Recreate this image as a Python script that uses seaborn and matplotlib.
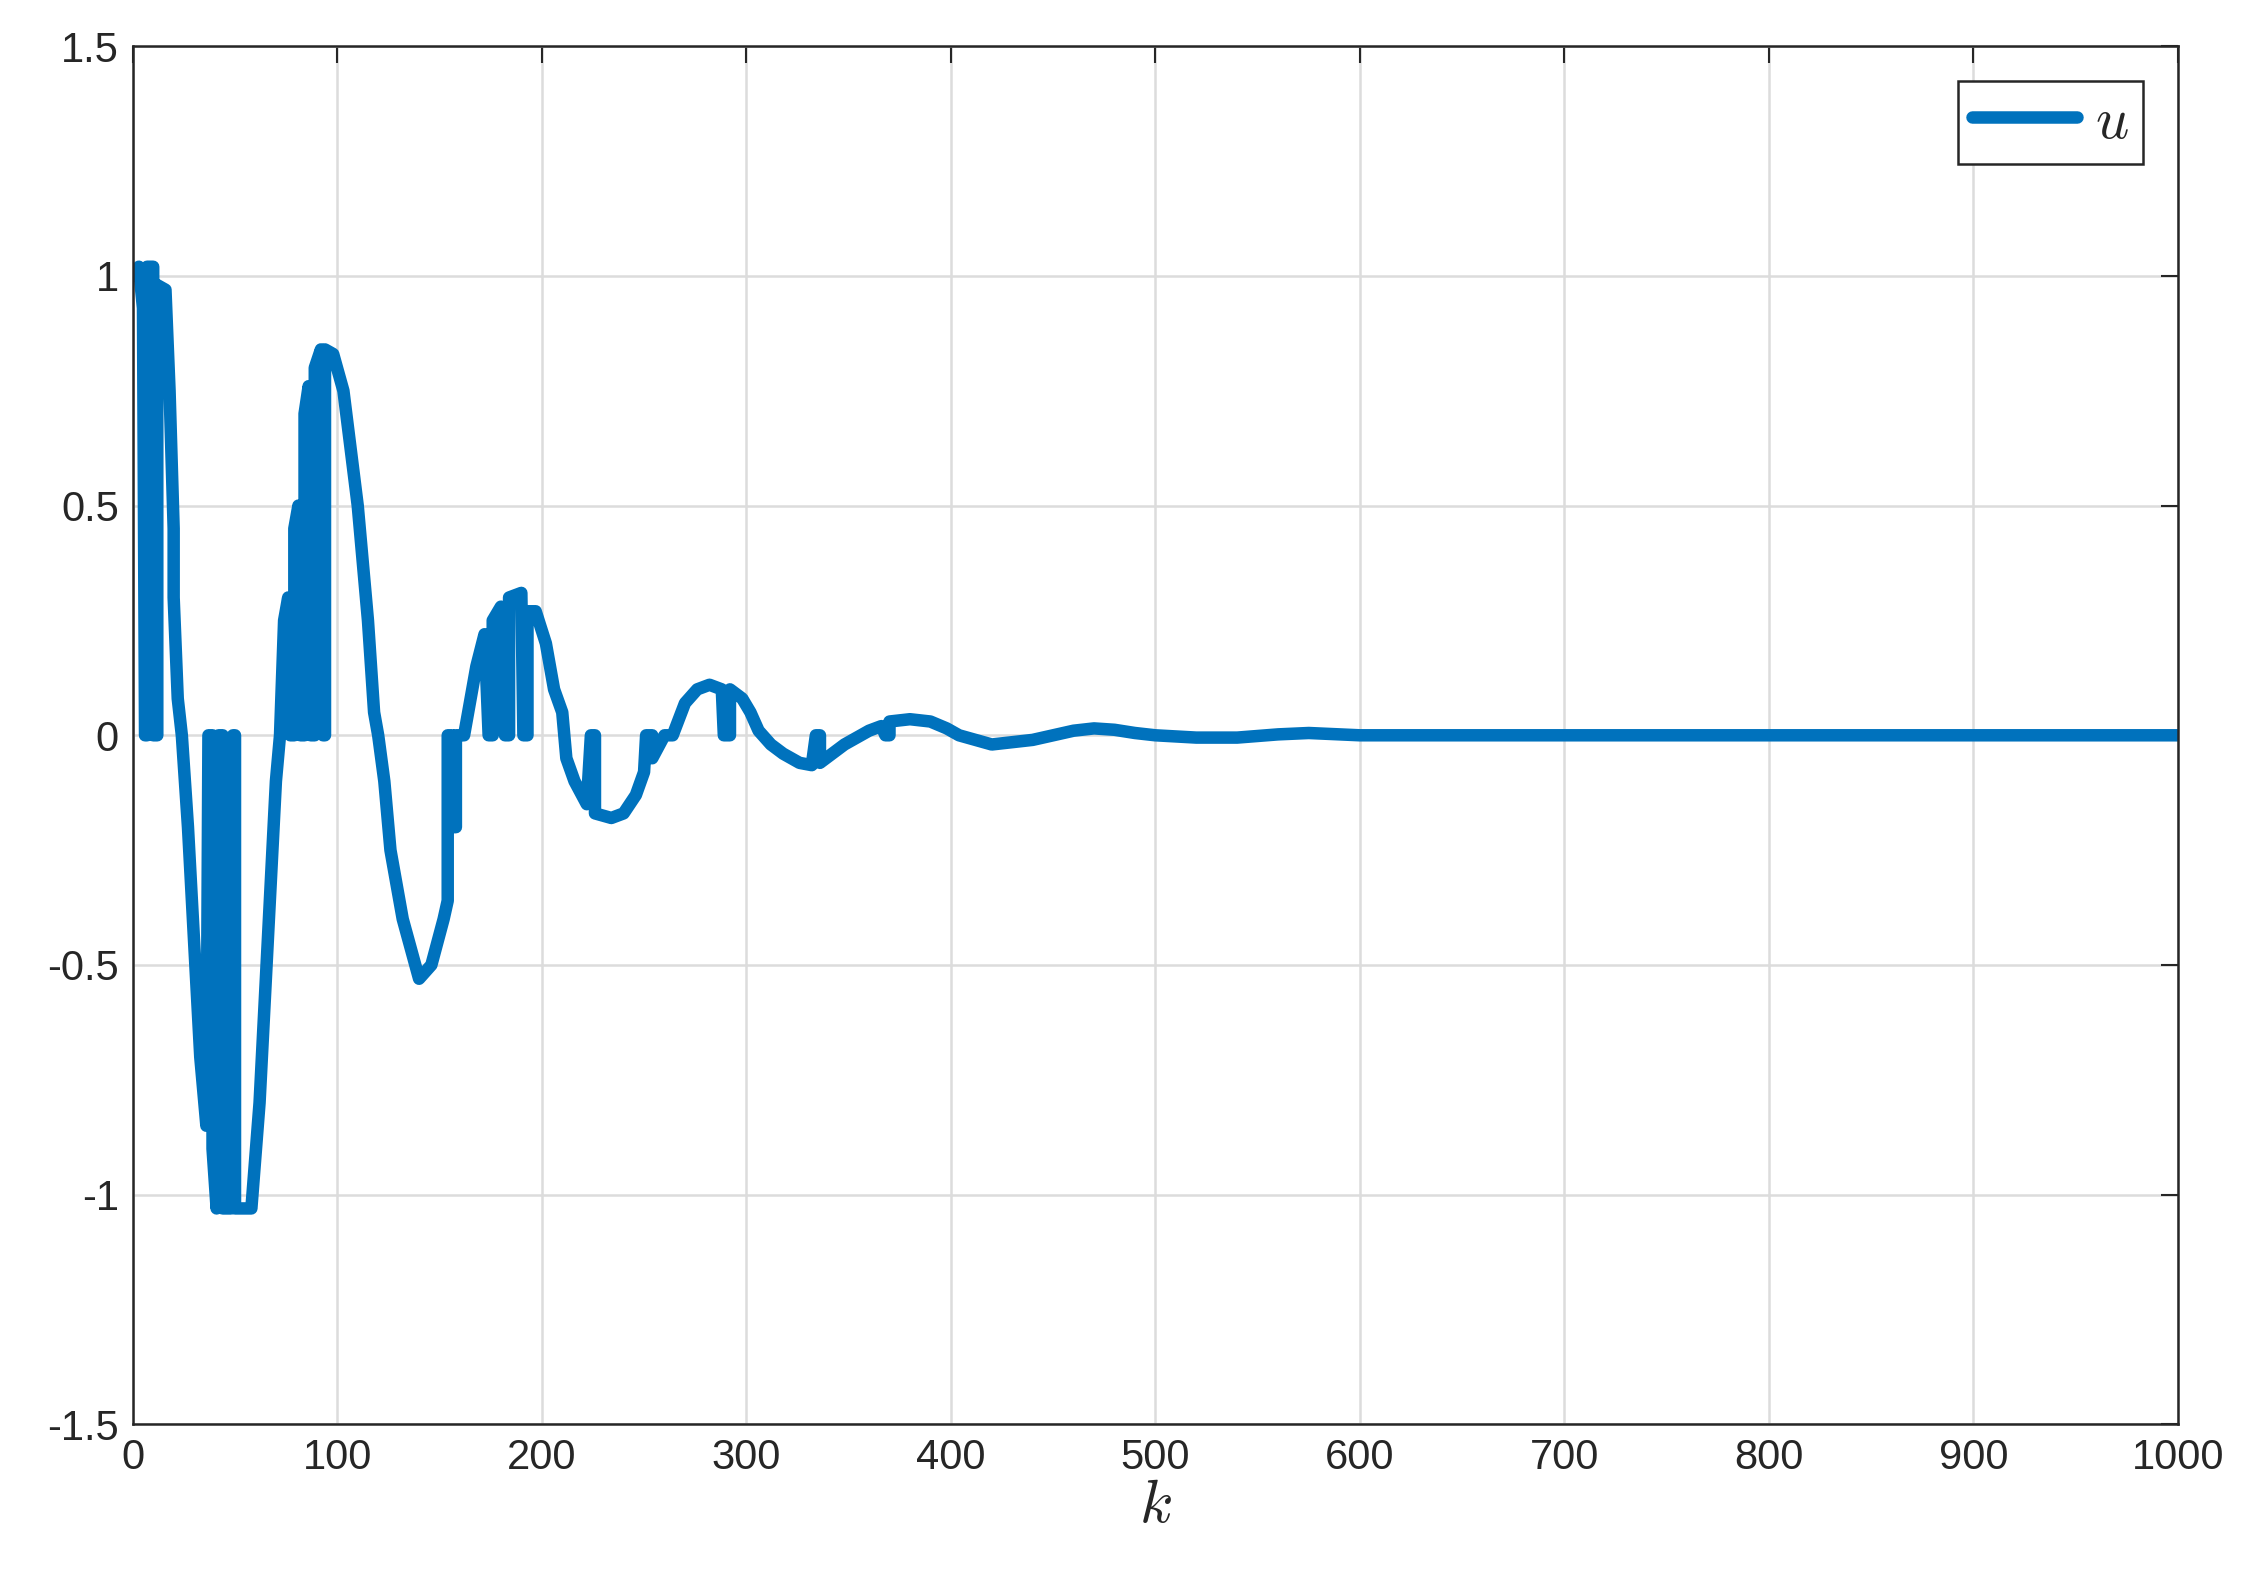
import numpy as np
import pandas as pd
import seaborn as sns
from matplotlib import pyplot as plt

# control signal u(k) (drops to zero kept as explicit points)
k = [0, 3, 5, 6, 7, 7, 10, 10, 12, 12, 16, 18, 19, 20, 20, 22, 24, 27, 30, 33, 36, 37, 39, 39, 41,
     42, 44, 44, 48, 49, 50, 50, 58, 62, 66, 70, 72, 74, 76, 77, 79, 79, 81, 82, 84, 84, 86, 87, 89,
     89, 92, 93, 94, 94, 98, 103, 110, 115, 118, 120, 123, 126, 132, 140, 146, 152, 154, 154, 156,
     156, 158, 158, 162, 164, 168, 172, 174, 176, 176, 180, 182, 184, 184, 190, 191, 193, 193, 197,
     202, 206, 210, 212, 216, 222, 224, 226, 226, 234, 240, 246, 250, 251, 254, 254, 260, 264, 270,
     276, 282, 288, 289, 292, 292, 298, 302, 306, 312, 318, 326, 332, 334, 336, 336, 342, 348, 352,
     356, 360, 366, 368, 370, 370, 380, 390, 398, 404, 412, 420, 430, 440, 450, 460, 470, 480, 490,
     500, 520, 540, 560, 575, 600, 700, 1000]
u = [1.0, 1.02, 0.93, 0, 0, 1.02, 1.02, 0, 0, 0.98, 0.97, 0.75, 0.6, 0.45, 0.3, 0.08, 0, -0.2, -0.45,
     -0.7, -0.85, 0, 0, -0.9, -1.03, 0, 0, -1.03, -1.03, 0, 0, -1.03, -1.03, -0.8, -0.45, -0.1, 0,
     0.25, 0.3, 0, 0, 0.45, 0.5, 0, 0, 0.7, 0.76, 0, 0, 0.8, 0.84, 0, 0, 0.84, 0.83, 0.75, 0.5, 0.25,
     0.05, 0, -0.1, -0.25, -0.4, -0.53, -0.5, -0.4, -0.36, 0, 0, -0.2, -0.2, 0, 0, 0.05, 0.15, 0.22,
     0, 0, 0.25, 0.28, 0, 0, 0.3, 0.31, 0, 0, 0.27, 0.27, 0.2, 0.1, 0.05, -0.05, -0.1, -0.15, 0, 0,
     -0.17, -0.18, -0.17, -0.13, -0.08, 0, 0, -0.05, 0, 0, 0.07, 0.1, 0.11, 0.1, 0, 0, 0.1, 0.08,
     0.05, 0.01, -0.02, -0.04, -0.06, -0.065, 0, 0, -0.06, -0.04, -0.02, -0.01, 0, 0.01, 0.02, 0, 0,
     0.03, 0.035, 0.03, 0.015, 0, -0.01, -0.02, -0.015, -0.01, 0, 0.01, 0.015, 0.012, 0.005, 0,
     -0.005, -0.005, 0.002, 0.005, 0, 0, 0]

df = pd.DataFrame({'k': k, 'u': u})

sns.set_style('white')
plt.rcParams['font.family'] = ['Liberation Sans', 'DejaVu Sans']
plt.rcParams['mathtext.fontset'] = 'cm'

fig = plt.figure(figsize=(22.5, 15.95), dpi=100)
ax = fig.add_axes([0.059, 0.107, 0.909, 0.864])
sns.lineplot(data=df, x='k', y='u', sort=False, color='#0072BD', linewidth=9,
             label='$u$', ax=ax, estimator=None)

ax.set_xlim(0, 1000)
ax.set_ylim(-1.5, 1.5)
ax.set_xticks(np.arange(0, 1001, 100))
ax.set_yticks([-1.5, -1, -0.5, 0, 0.5, 1, 1.5])
ax.set_yticklabels(['-1.5', '-1', '-0.5', '0', '0.5', '1', '1.5'])
ax.grid(True, color='#dcdcdc', linewidth=1.8)
ax.tick_params(direction='in', length=12, width=1.5, labelsize=30, top=True, right=True,
               colors='#262626', pad=10)
for s in ax.spines.values():
    s.set_color('#262626')
    s.set_linewidth(1.8)
ax.set_xlabel('$k$', fontsize=44, labelpad=0)
ax.set_ylabel('')
leg = ax.legend(loc='upper right', fontsize=42, handlelength=1.8, handletextpad=0.3, fancybox=False,
                framealpha=1, edgecolor='#262626', borderpad=0.25, borderaxespad=0.6)
leg.get_frame().set_linewidth(1.8)

fig.savefig('out.png', dpi=100)
